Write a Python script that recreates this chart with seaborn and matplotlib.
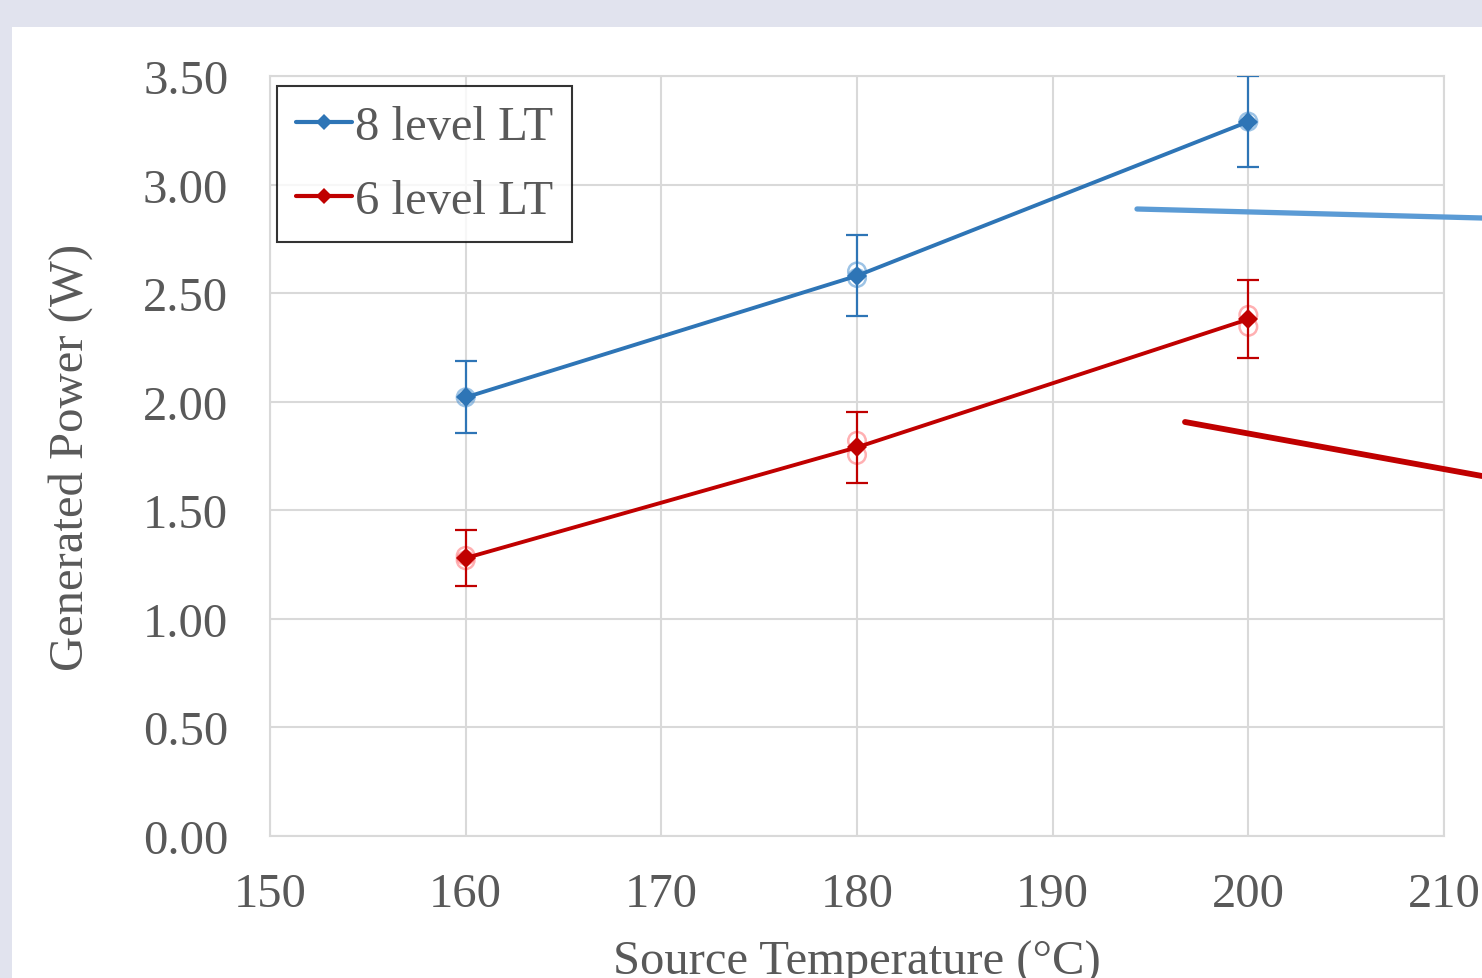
import pandas as pd
import matplotlib.pyplot as plt
import seaborn as sns
from matplotlib.lines import Line2D
from matplotlib.patches import Rectangle

# data
temps = [160, 180, 200]
power_8 = [2.02, 2.58, 3.29]
err_8 = [0.166, 0.187, 0.21]
power_6 = [1.28, 1.79, 2.38]
err_6 = [0.13, 0.163, 0.18]

# faint single runs behind the mean markers
runs_8_x = [160, 180, 180, 200]
runs_8_y = [2.02, 2.60, 2.57, 3.29]
runs_6_x = [160, 160, 180, 180, 200, 200]
runs_6_y = [1.27, 1.29, 1.82, 1.755, 2.40, 2.345]

x_ticks = [150, 160, 170, 180, 190, 200, 210]
y_ticks = [0, 0.5, 1.0, 1.5, 2.0, 2.5, 3.0, 3.5]

blue = '#2E75B6'
red = '#C00000'
grey_txt = '#595959'

df = pd.DataFrame({
    'T': temps * 2,
    'P': power_8 + power_6,
    'series': ['8 level LT'] * 3 + ['6 level LT'] * 3,
})
runs = pd.DataFrame({
    'T': runs_8_x + runs_6_x,
    'P': runs_8_y + runs_6_y,
    'series': ['8 level LT'] * len(runs_8_x) + ['6 level LT'] * len(runs_6_x),
})

sns.set_style('white')
plt.rcParams['font.family'] = ['Liberation Serif', 'DejaVu Serif']

fig = plt.figure(figsize=(14.82, 9.79), dpi=100, facecolor='#E1E3EE')
fig.patches.append(Rectangle((12 / 1482, 0), 1, 1 - 28 / 979, transform=fig.transFigure,
                             facecolor='white', edgecolor='none', zorder=-5))
ax = fig.add_axes([270 / 1482, 142 / 979, 1174 / 1482, 760 / 979])
ax.set_facecolor('white')
ax.set_zorder(2)

pal = {'8 level LT': blue, '6 level LT': red}
light = {'8 level LT': '#5B9BD5', '6 level LT': '#FF7C80'}

# faint hollow circles for single runs
for name, g in runs.groupby('series'):
    ax.scatter(g['T'], g['P'], s=160, facecolors='none', edgecolors=light[name],
               linewidths=1.8, alpha=0.6, zorder=3)

ax.errorbar(temps, power_8, yerr=err_8, fmt='none', ecolor=blue, elinewidth=1.6,
            capsize=8, capthick=1.6, zorder=4)
ax.errorbar(temps, power_6, yerr=err_6, fmt='none', ecolor=red, elinewidth=1.6,
            capsize=8, capthick=1.6, zorder=4)

sns.lineplot(data=df, x='T', y='P', hue='series', palette=pal, marker='D',
             markersize=10, markeredgewidth=0, linewidth=2.8, ax=ax, zorder=5,
             legend=False)

ax.set_xlim(150, 210)
ax.set_ylim(0, 3.5)
ax.set_xticks(x_ticks)
ax.set_yticks(y_ticks)
ax.set_yticklabels([f'{v:.2f}' for v in y_ticks])
ax.grid(True, color='#D9D9D9', linewidth=1.5)
for s in ax.spines.values():
    s.set_color('#D9D9D9')
    s.set_linewidth(1.5)
ax.tick_params(axis='both', length=0, labelsize=35, labelcolor=grey_txt)
ax.tick_params(axis='y', pad=30)
ax.tick_params(axis='x', pad=26)
ax.set_xlabel('Source Temperature (°C)', fontsize=35, color=grey_txt, labelpad=17)
ax.set_ylabel('Generated Power (W)', fontsize=35, color=grey_txt, labelpad=36)

handles = [Line2D([], [], color=blue, marker='D', markersize=8, markeredgewidth=0, linewidth=3),
           Line2D([], [], color=red, marker='D', markersize=8, markeredgewidth=0, linewidth=3)]
leg = ax.legend(handles, ['8 level LT', '6 level LT'], loc='upper left',
                bbox_to_anchor=(7 / 1174, 1 - 10 / 760), fontsize=35, frameon=True,
                fancybox=False, edgecolor='black', handlelength=1.15, handletextpad=0.05,
                borderpad=0.4, labelspacing=0.6, borderaxespad=0)
leg.get_frame().set_linewidth(1.5)
for t in leg.get_texts():
    t.set_color(grey_txt)

# callout lines running off the right edge
fig.add_artist(Line2D([1137 / 1482, 1482 / 1482], [1 - 210 / 979, 1 - 219 / 979],
                      transform=fig.transFigure, color='#5B9BD5', linewidth=3.8, zorder=10))
fig.add_artist(Line2D([1185 / 1482, 1482 / 1482], [1 - 423 / 979, 1 - 477 / 979],
                      transform=fig.transFigure, color=red, linewidth=4.2, zorder=10))

fig.savefig('out.png', dpi=100, facecolor=fig.get_facecolor())
